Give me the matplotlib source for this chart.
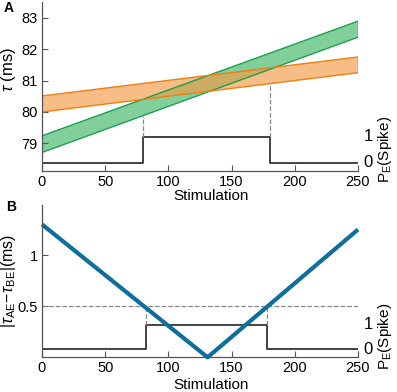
import numpy as np
import matplotlib
matplotlib.use('Agg')
import matplotlib.pyplot as plt
import matplotlib.transforms as mtransforms

plt.rcParams['font.family'] = ['Liberation Sans', 'DejaVu Sans']
plt.rcParams['mathtext.fontset'] = 'custom'
plt.rcParams['mathtext.rm'] = 'Liberation Sans'
plt.rcParams['mathtext.it'] = 'Liberation Sans:italic'

# Panel A data
stim = [0, 250]
green_lo = [78.71, 82.38]
green_hi = [79.24, 82.89]
orange_lo = [80.00, 81.25]
orange_hi = [80.51, 81.75]
stepA_x = [0, 80, 180, 250]
stepA_y = [78.38, 79.21, 78.38, 78.38]
dashA_x = [80, 180]
dashA_top = [79.88, 80.90]

# Panel B data
diff_x = [0, 131, 250]
diff_y = [1.30, 0.0, 1.25]
stepB_x = [0, 82, 178, 250]
stepB_y = [0.08, 0.32, 0.08, 0.08]
threshold = 0.5

xticks = [0, 50, 100, 150, 200, 250]

fig = plt.figure(figsize=(3.97, 3.92), dpi=100)
axA = fig.add_axes([42/397, 1 - 170.7/392, 316/397, 168.7/392])
axB = fig.add_axes([42/397, 1 - 357.3/392, 316/397, 152.3/392])

green_edge = '#1fa050'
green_face = '#4cbb70'
orange_edge = '#f07f12'
orange_face = '#f39a45'
spine_col = '#555555'

def style(ax):
    for s in ['top', 'right']:
        ax.spines[s].set_visible(False)
    for s in ['left', 'bottom']:
        ax.spines[s].set_color(spine_col)
        ax.spines[s].set_linewidth(0.9)
    ax.tick_params(direction='in', length=4, width=0.8, color=spine_col,
                   labelsize=10.5, pad=3)
    ax.set_xlim(0, 250)
    ax.set_xticks(xticks)

# ---- Panel A
style(axA)
axA.fill_between(stim, green_lo, green_hi, facecolor=green_face, alpha=0.7,
                 edgecolor='none')
axA.plot(stim, green_lo, color=green_edge, lw=1)
axA.plot(stim, green_hi, color=green_edge, lw=1)
axA.plot([250, 250], [green_lo[1], green_hi[1]], color=green_edge, lw=1)
axA.fill_between(stim, orange_lo, orange_hi, facecolor=orange_face, alpha=0.65,
                 edgecolor='none')
axA.plot(stim, orange_lo, color=orange_edge, lw=1)
axA.plot(stim, orange_hi, color=orange_edge, lw=1)
axA.plot([250, 250], [orange_lo[1], orange_hi[1]], color=orange_edge, lw=1)
axA.step(stepA_x, stepA_y, where='post', color='#222222', lw=1.2)
for x, top in zip(dashA_x, dashA_top):
    axA.plot([x, x], [stepA_y[1], top], ls='--', color='#888888', lw=0.9)
axA.set_ylim(78.13, 83.5)
axA.set_yticks([79, 80, 81, 82, 83])
axA.set_ylabel(r'$\tau$ (ms)', fontsize=12)
axA.yaxis.set_label_coords(-0.076, 0.6)
axA.set_xlabel('Stimulation', fontsize=11)
axA.xaxis.set_label_coords(0.535, -0.11)

# ---- Panel B
style(axB)
axB.axhline(threshold, ls='--', color='#888888', lw=0.9)
axB.step(stepB_x, stepB_y, where='post', color='#222222', lw=1.2)
for x in [stepB_x[1], stepB_x[2]]:
    axB.plot([x, x], [stepB_y[1], threshold], ls='--', color='#888888', lw=0.9)
axB.plot(diff_x, diff_y, color='#0e6e9e', lw=3, solid_capstyle='butt', clip_on=False)
axB.set_ylim(0, 1.49)
axB.set_yticks([0.5, 1])
axB.set_yticklabels(['0.5', '1'])
axB.set_ylabel(r'$|\tau_{\rm AE}\!-\!\tau_{\rm BE}|$(ms)', fontsize=11.5)
axB.yaxis.set_label_coords(-0.076, 0.5)
axB.set_xlabel('Stimulation', fontsize=11)
axB.xaxis.set_label_coords(0.535, -0.135)

# right-hand spike probability labels
for ax, lo, hi in [(axA, stepA_y[0], stepA_y[1]), (axB, stepB_y[0], stepB_y[1])]:
    tr = mtransforms.blended_transform_factory(ax.transAxes, ax.transData)
    ax.text(1.047, hi, '1', transform=tr, ha='right', va='center', fontsize=12)
    ax.text(1.047, lo, '0', transform=tr, ha='right', va='center', fontsize=12)
    ax.text(1.085, (lo + hi) / 2, r'P$_{\rm E}$(Spike)', transform=tr, rotation=90,
            ha='center', va='center', fontsize=11)

fig.text(8.5/397, 1 - 8.5/392, 'A', fontsize=10, fontweight='bold', ha='center', va='center')
fig.text(11/397, 1 - 207/392, 'B', fontsize=10, fontweight='bold', ha='center', va='center')

fig.savefig('out.png', dpi=100)
